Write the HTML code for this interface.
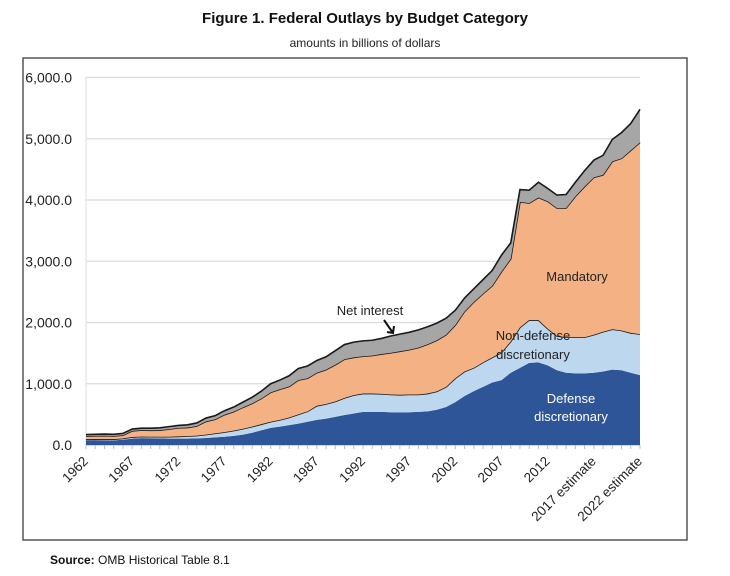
<!DOCTYPE html>
<html><head><meta charset="utf-8"><style>
body{margin:0;background:#fff;font-family:"Liberation Sans",sans-serif;}
svg text{font-family:"Liberation Sans",sans-serif;}
</style></head><body>
<svg id="chart" width="730" height="571" viewBox="0 0 730 571">
<text x="365" y="23" text-anchor="middle" font-size="15" font-weight="bold" fill="#111">Figure 1. Federal Outlays by Budget Category</text>
<text x="365" y="47" text-anchor="middle" font-size="12" fill="#222">amounts in billions of dollars</text>
<rect x="23" y="58" width="664" height="482" fill="none" stroke="#555" stroke-width="1.5"/>
<g id="grid"></g><g id="areas"></g><g id="axes"></g>
<text x="577" y="281" text-anchor="middle" font-size="13" fill="#222">Mandatory</text>
<text x="533" y="340" text-anchor="middle" font-size="13" fill="#222">Non-defense</text>
<text x="533" y="359" text-anchor="middle" font-size="13" fill="#222">discretionary</text>
<text x="571" y="403" text-anchor="middle" font-size="13" fill="#fff">Defense</text>
<text x="571" y="421" text-anchor="middle" font-size="13" fill="#fff">discretionary</text>
<text x="370" y="315" text-anchor="middle" font-size="13" fill="#222">Net interest</text>
<path d="M384 320 L393 333 M387 332 L393 333 L394 326" stroke="#111" stroke-width="2" fill="none"/>
<text x="50" y="564" font-size="12" fill="#111"><tspan font-weight="bold">Source:</tspan> OMB Historical Table 8.1</text>
</svg>
<script>
const years=[];for(let y=1962;y<=2022;y++)years.push(y);
const defense=[80,80,78,75,85,105,112,110,108,105,105,105,108,115,125,135,150,170,200,240,280,300,325,350,380,410,430,460,490,515,540,540,540,535,530,535,540,550,575,620,700,800,880,950,1020,1060,1180,1260,1340,1350,1300,1220,1180,1170,1170,1180,1200,1230,1220,1180,1140];
const nondefense=[15,15,17,20,22,25,25,25,27,30,35,40,45,55,65,75,85,95,100,100,100,110,125,150,170,230,240,250,280,300,300,300,295,290,290,290,285,290,300,330,390,400,380,400,410,450,510,660,700,690,600,560,580,590,590,620,650,660,650,650,670];
const mandatory=[50,55,56,52,53,100,106,105,107,125,140,140,157,215,230,285,310,350,380,420,480,500,505,560,540,540,560,600,630,615,610,620,650,680,710,730,765,805,835,850,870,980,1075,1120,1170,1320,1350,2050,1910,2000,2080,2090,2110,2300,2460,2570,2560,2740,2810,2980,3130];
const netInterest=[25,25,27,28,30,30,32,35,38,40,40,45,50,55,60,65,75,85,100,120,140,150,175,190,200,200,210,230,240,250,250,250,255,275,280,285,290,285,280,270,240,220,215,230,250,270,260,200,210,250,210,210,220,230,260,280,320,360,420,440,540];
const yTicks=[0,1000,2000,3000,4000,5000,6000];
const xLabels=["1962","1967","1972","1977","1982","1987","1992","1997","2002","2007","2012","2017 estimate","2022 estimate"];
const X0=86,X1=640,Y0=445,Y1=77.5,YMAX=6000;
const xs=i=>X0+(X1-X0)*i/(years.length-1);
const ys=v=>Y0-(Y0-Y1)*v/YMAX;
const NS="http://www.w3.org/2000/svg";
function mk(t,a,p){const e=document.createElementNS(NS,t);for(const k in a)e.setAttribute(k,a[k]);p.appendChild(e);return e;}
const grid=document.getElementById('grid'),areas=document.getElementById('areas'),axes=document.getElementById('axes');
yTicks.forEach(v=>{
 const l=mk('line',{x1:X0,x2:X1,y1:ys(v),y2:ys(v),stroke:v===0?'#bbb':'#dcdcdc','stroke-width':1.2},grid);
 
 
 const t=mk('text',{x:72,y:ys(v)+5,'text-anchor':'end','font-size':14,fill:'#222'},axes);
 t.textContent=v.toLocaleString('en-US',{minimumFractionDigits:1,maximumFractionDigits:1});
 
 
});
const vl=mk('line',{x1:X0,x2:X0,y1:Y1,y2:Y0,stroke:'#dcdcdc','stroke-width':1},grid);


const series=[defense,nondefense,mandatory,netInterest];
const fills=['#2e5597','#bdd7ee','#f4b183','#a6a6a6'];
const names=['defense-area','nondefense-area','mandatory-area','net-interest-area'];
let base=years.map(()=>0);
series.forEach((s,k)=>{
 const top=base.map((b,i)=>b+s[i]);
 let d='M'+top.map((v,i)=>xs(i)+','+ys(v)).join(' L');
 for(let i=years.length-1;i>=0;i--)d+=' L'+xs(i)+','+ys(base[i]);
 const p=mk('path',{d:d+'Z',fill:fills[k],stroke:'none'},areas);
 
 
 if(k>0){
  const ln=mk('polyline',{points:top.map((v,i)=>xs(i)+','+ys(v)).join(' '),fill:'none',stroke:'#1a1a1a','stroke-width':1.6},areas);
  
  
 }
 base=top;
});
years.forEach((y,i)=>{
 const t=mk('line',{x1:xs(i),x2:xs(i),y1:Y0,y2:Y0+4,stroke:'#bbb','stroke-width':1},axes);
 
 
});
xLabels.forEach((lab,j)=>{
 const x=xs(j*5)+3,y=Y0+17;
 const t=mk('text',{x:x,y:y,'text-anchor':'end','font-size':13.5,fill:'#222',transform:`rotate(-45 ${x} ${y})`},axes);
 t.textContent=lab;
 
 
});
</script>
</body></html>
